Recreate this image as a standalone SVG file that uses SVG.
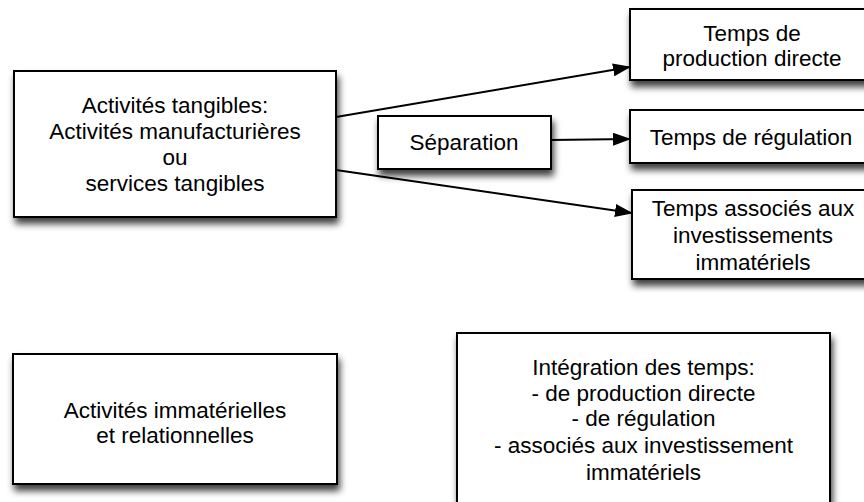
<svg xmlns="http://www.w3.org/2000/svg" width="864" height="502" viewBox="0 0 864 502">
<style>
.box{fill:#fff;stroke:#000;stroke-width:2;filter:url(#sh)}
.t{font-family:"Liberation Sans",Arial,sans-serif;font-size:22.5px;fill:#000;text-anchor:middle}
.c{stroke:#000;stroke-width:2;fill:none;marker-end:url(#ah)}
</style>
<defs>
<filter id="sh" x="-20%" y="-20%" width="140%" height="160%">
<feDropShadow dx="2" dy="6" stdDeviation="3.5" flood-color="#000" flood-opacity="0.75"/>
</filter>
<marker id="ah" markerWidth="18" markerHeight="13" refX="17" refY="6.5" orient="auto" markerUnits="userSpaceOnUse">
<path d="M0,0 L18,6.5 L0,13 Z" fill="#000"/>
</marker>
</defs>
<rect width="864" height="502" fill="#fff"/>
<g id="connectors">
<line class="c" x1="336" y1="117" x2="630" y2="67"/>
<line class="c" x1="551" y1="140" x2="630" y2="139"/>
<line class="c" x1="336" y1="170" x2="632" y2="213"/>
</g>
<g id="tangibles">
<rect class="box" x="14" y="71" width="322" height="146"/>
<text class="t" x="175" y="113">Activités tangibles:</text>
<text class="t" x="175" y="139">Activités manufacturières</text>
<text class="t" x="175" y="165">ou</text>
<text class="t" x="175" y="191">services tangibles</text>
</g>
<g id="separation">
<rect class="box" x="378" y="116" width="173" height="53"/>
<text class="t" x="464" y="150">Séparation</text>
</g>
<g id="production">
<rect class="box" x="630" y="9" width="250" height="71"/>
<text class="t" x="752" y="41">Temps de</text>
<text class="t" x="752" y="66">production directe</text>
</g>
<g id="regulation">
<rect class="box" x="630" y="110" width="250" height="53"/>
<text class="t" x="751" y="145">Temps de régulation</text>
</g>
<g id="investissements">
<rect class="box" x="632" y="190" width="250" height="89"/>
<text class="t" x="753" y="216">Temps associés aux</text>
<text class="t" x="753" y="243">investissements</text>
<text class="t" x="753" y="270">immatériels</text>
</g>
<g id="immaterielles">
<rect class="box" x="13" y="354" width="324" height="130"/>
<text class="t" x="175" y="418">Activités immatérielles</text>
<text class="t" x="175" y="443">et relationnelles</text>
</g>
<g id="integration">
<rect class="box" x="457" y="333" width="373" height="190"/>
<text class="t" x="643.5" y="375">Intégration des temps:</text>
<text class="t" x="643.5" y="401">- de production directe</text>
<text class="t" x="643.5" y="426">- de régulation</text>
<text class="t" x="643.5" y="453">- associés aux investissement</text>
<text class="t" x="643.5" y="480">immatériels</text>
</g>
</svg>
